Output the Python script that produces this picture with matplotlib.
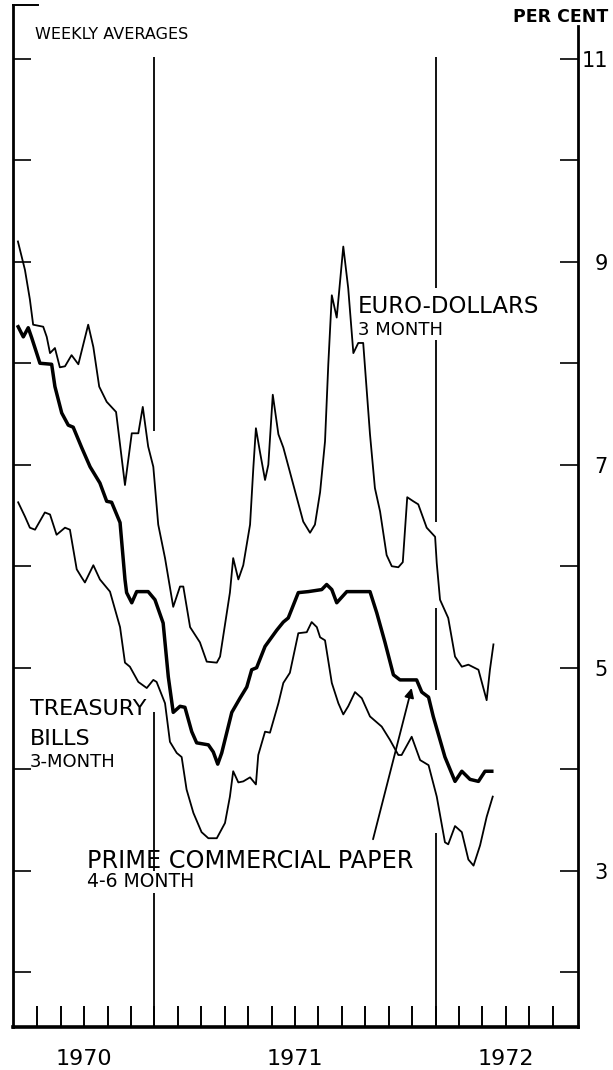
import matplotlib
matplotlib.use("Agg")
import matplotlib.pyplot as plt
import matplotlib.transforms as mtransforms

# ---- data (x = months since 1 July 1970, y = per cent) ----
euro_t = [0.17, 0.47, 0.68, 0.82, 1.25, 1.40, 1.54, 1.75, 1.96, 2.18, 2.46, 2.75,
          3.17, 3.39, 3.64, 3.96, 4.36, 4.74, 5.03, 5.31, 5.50, 5.73, 5.95, 6.16,
          6.45, 6.80, 7.09, 7.23, 7.52, 7.94, 8.23, 8.66, 8.80, 9.22, 9.36, 9.58,
          9.79, 10.08, 10.22, 10.33, 10.50, 10.72, 10.86, 11.05, 11.29, 11.50, 11.78,
          12.07, 12.35, 12.64, 12.85, 13.07, 13.28, 13.42, 13.57, 13.78, 14.06, 14.27,
          14.49, 14.70, 14.91, 15.20, 15.41, 15.63, 15.91, 16.13, 16.41, 16.60, 16.79,
          17.05, 17.26, 17.62, 17.98, 18.05, 18.19, 18.54, 18.83, 19.12, 19.40, 19.83,
          20.18, 20.32, 20.47]
euro_v = [9.20, 8.92, 8.63, 8.38, 8.36, 8.26, 8.10, 8.15, 7.96, 7.97, 8.08, 7.99,
          8.38, 8.16, 7.77, 7.62, 7.52, 6.80, 7.31, 7.31, 7.57, 7.18, 6.98, 6.41,
          6.08, 5.60, 5.80, 5.80, 5.40, 5.25, 5.06, 5.05, 5.11, 5.74, 6.08, 5.87,
          6.01, 6.41, 6.97, 7.36, 7.13, 6.85, 7.00, 7.69, 7.30, 7.17, 6.93,
          6.68, 6.44, 6.33, 6.41, 6.73, 7.23, 7.99, 8.67, 8.45, 9.15, 8.74,
          8.10, 8.20, 8.20, 7.30, 6.77, 6.54, 6.11, 6.00, 5.99, 6.04, 6.68,
          6.64, 6.61, 6.38, 6.29, 6.03, 5.67, 5.49, 5.11, 5.01, 5.03, 4.98,
          4.68, 4.98, 5.23]

cp_t = [0.18, 0.40, 0.61, 0.76, 1.11, 1.61, 1.75, 2.04, 2.32, 2.53, 2.89, 3.25,
        3.67, 3.96, 4.17, 4.53, 4.74, 4.81, 5.03, 5.24, 5.73, 6.02, 6.37, 6.59,
        6.80, 7.09, 7.30, 7.59, 7.80, 8.30, 8.51, 8.70, 8.87, 9.30, 9.65, 9.94,
        10.15, 10.36, 10.72, 11.22, 11.50, 11.71, 12.14, 12.57, 13.14, 13.35, 13.57,
        13.78, 14.21, 15.20, 15.49, 15.84, 16.20, 16.48, 16.77, 17.19, 17.41, 17.70,
        17.90, 18.40, 18.83, 19.12, 19.47, 19.83, 20.11, 20.40]
cp_v = [8.36, 8.26, 8.35, 8.25, 8.00, 7.99, 7.77, 7.51, 7.39, 7.37, 7.17, 6.98,
        6.82, 6.64, 6.63, 6.43, 5.87, 5.74, 5.64, 5.75, 5.75, 5.67, 5.44, 4.91,
        4.56, 4.62, 4.61, 4.37, 4.26, 4.24, 4.17, 4.05, 4.16, 4.56, 4.70, 4.81,
        4.98, 5.00, 5.21, 5.37, 5.45, 5.49, 5.74, 5.75, 5.77, 5.82, 5.77,
        5.64, 5.75, 5.75, 5.54, 5.25, 4.93, 4.88, 4.88, 4.88, 4.76, 4.71,
        4.52, 4.12, 3.88, 3.98, 3.90, 3.88, 3.98, 3.98]

tb_t = [0.18, 0.47, 0.68, 0.90, 1.32, 1.54, 1.82, 2.18, 2.39, 2.68, 2.89, 3.03,
        3.39, 3.67, 4.10, 4.53, 4.74, 4.95, 5.31, 5.67, 5.95, 6.09, 6.45, 6.66,
        6.95, 7.16, 7.37, 7.66, 8.01, 8.30, 8.66, 9.01, 9.22, 9.36, 9.58, 9.79,
        10.08, 10.33, 10.43, 10.72, 10.93, 11.29, 11.50, 11.78, 12.14, 12.50, 12.71,
        12.93, 13.07, 13.28, 13.57, 13.85, 14.06, 14.27, 14.56, 14.85, 15.20, 15.70,
        16.05, 16.41, 16.55, 16.98, 17.34, 17.70, 18.05, 18.40, 18.54, 18.83, 19.12,
        19.40, 19.62, 19.90, 20.18, 20.44]
tb_v = [6.63, 6.49, 6.38, 6.36, 6.53, 6.51, 6.31, 6.38, 6.36, 5.97, 5.89, 5.84,
        6.01, 5.87, 5.75, 5.40, 5.05, 5.01, 4.86, 4.80, 4.88, 4.86, 4.65, 4.27,
        4.16, 4.12, 3.80, 3.57, 3.38, 3.32, 3.32, 3.47, 3.73, 3.98, 3.87, 3.88,
        3.92, 3.85, 4.14, 4.37, 4.36, 4.65, 4.85, 4.95, 5.34, 5.35, 5.45,
        5.40, 5.30, 5.27, 4.85, 4.65, 4.54, 4.62, 4.76, 4.70, 4.52, 4.42,
        4.29, 4.14, 4.14, 4.32, 4.09, 4.04, 3.73, 3.28, 3.26, 3.44, 3.38,
        3.11, 3.05, 3.25, 3.53, 3.73]

year_labels = ["1970", "1971", "1972"]
year_centers = [3, 12, 21]           # months since July 1970
year_starts = [6, 18]                # January 1971, January 1972
month_ticks = list(range(1, 24))
y_ticks = [2, 3, 4, 5, 6, 7, 8, 9, 10, 11]
right_labels = [3, 5, 7, 9, 11]

# ---- figure ----
W, H = 613, 1070
fig = plt.figure(figsize=(W / 100, H / 100), dpi=100)
ax = fig.add_axes([13 / W, 43 / H, 565 / W, 1022 / H])
ax.set_xlim(-0.04, 24.08)
ax.set_ylim(1.46, 11.53)

ax.plot(euro_t, euro_v, color="black", lw=1.3, solid_joinstyle="round")
ax.plot(cp_t, cp_v, color="black", lw=2.5, solid_joinstyle="round")
ax.plot(tb_t, tb_v, color="black", lw=1.3, solid_joinstyle="round")

# year divider lines (broken where they cross labels / curves)
seg1 = [(7.33, 11.02), (3.00, 4.56), (1.46, 2.78)]
seg2 = [(8.74, 11.02), (6.44, 8.23), (4.78, 5.59), (1.46, 3.37)]
for x, segs in zip(year_starts, [seg1, seg2]):
    for lo, hi in segs:
        ax.plot([x, x], [lo, hi], color="black", lw=1.3, solid_capstyle="butt")

# spines
ax.spines["top"].set_visible(False)
ax.spines["left"].set_linewidth(2.0)
ax.spines["right"].set_linewidth(2.0)
ax.spines["bottom"].set_linewidth(2.6)
ax.spines["right"].set_bounds(1.46, 11.32)

ax.set_yticks(y_ticks)
ax.set_xticks(month_ticks)
ax.tick_params(axis="y", which="major", direction="in", left=True, right=True,
               labelleft=False, labelright=False, length=13, width=1.2)
ax.tick_params(axis="x", which="major", direction="in", length=15, width=1.4,
               labelbottom=False)
ax.plot([0, 0.045], [1, 1], transform=ax.transAxes, color="black", lw=1.4,
        clip_on=False)

# right-hand labels
trans_r = mtransforms.blended_transform_factory(fig.transFigure, ax.transData)
for v in right_labels:
    ax.annotate(str(v), xy=(608 / W, v), xycoords=trans_r, xytext=(0, -6.0),
                textcoords="offset points", ha="right", va="baseline", fontsize=15)

# year labels
trans_x = mtransforms.blended_transform_factory(ax.transData, fig.transFigure)
for lab, c in zip(year_labels, year_centers):
    ax.text(c, 1 - 1065 / H, lab, transform=trans_x, ha="center", va="baseline",
            fontsize=16)

def ftext(x, y, s, **kw):
    fig.text(x / W, 1 - y / H, s, va="baseline", **kw)

ftext(35, 39, "WEEKLY AVERAGES", fontsize=11.5)
ftext(608, 22, "PER CENT", fontsize=12.5, fontweight="bold", ha="right")
ftext(358, 313, "EURO-DOLLARS", fontsize=16.5)
ftext(358, 335, "3 MONTH", fontsize=13)
ftext(30, 715, "TREASURY", fontsize=16)
ftext(30, 745, "BILLS", fontsize=16)
ftext(30, 767, "3-MONTH", fontsize=13)
ftext(87, 868, "PRIME COMMERCIAL PAPER", fontsize=17.3)
ftext(87, 887, "4-6 MONTH", fontsize=13.5)

# arrow from label to commercial paper curve
ax.annotate("", xy=(16.98, 4.80), xytext=(15.33, 3.31),
            arrowprops=dict(arrowstyle="-|>", color="black", lw=1.3,
                            mutation_scale=14, shrinkA=0, shrinkB=0))

fig.savefig("out.png", dpi=100, facecolor="white")
